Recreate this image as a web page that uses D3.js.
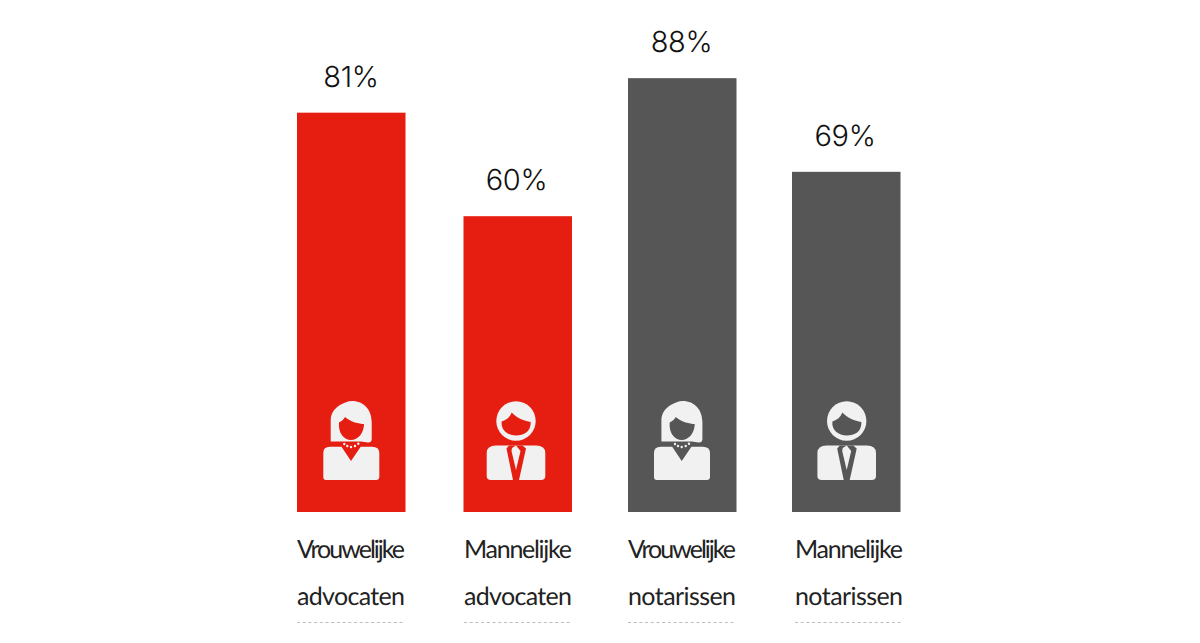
<!DOCTYPE html>
<html><head><meta charset="utf-8">
<script src="https://cdn.jsdelivr.net/npm/d3@7"></script>
<style>html,body{margin:0;background:#fff}svg{display:block}text{font-family:"Open Sans",sans-serif;fill:#222;text-rendering:geometricPrecision}</style>
</head><body><svg id="c" width="1200" height="643"></svg>
<script>
const categories = ["va","ma","vn","mn"];
const labelLine1 = ["Vrouwelijke","Mannelijke","Vrouwelijke","Mannelijke"];
const labelLine2 = ["advocaten","advocaten","notarissen","notarissen"];
const values = [81,60,88,69];
const genders = ["f","m","f","m"];
const colors = ["#e61e12","#e61e12","#565656","#565656"];

const svg = d3.select("#c");
const x = d3.scaleOrdinal().domain(categories).range([297,463.5,628,792]);
const labelX = d3.scaleOrdinal().domain(categories).range([297,464,628,795]);
const iconX = d3.scaleOrdinal().domain(categories).range([351,516,681.7,846.7]);
const valueX = d3.scaleOrdinal().domain(categories).range([351,516.5,681.5,845]);
const barW = 108.5;
const labelW = 108;
const y = d3.scaleLinear().domain([0,100]).range([512,19]);
const rows = categories.map((c,i)=>({c,i,v:values[i],g:genders[i],col:colors[i],a:labelLine1[i],b:labelLine2[i]}));

// icon shapes, in icon units: origin at centre of the bottom edge
const womanHair = "M-20.3-38.5V-60C-20.3-67-16-72-11-75C-7-77-3-79 1-79C13-79 20.7-70 20.7-58V-41C20.7-38.5 19-37.3 17-37.5L10-38.5Z";
const womanFace = "M-12-57.5C-9-59-7-61-6-63C0-58 8-56 13-56C13-47 7-40-0-40C-7-40-13-47-12-57.5Z";
const womanBody = "M-27.7-27Q-27.7-33.3-21-33.3H-9.5L0-19L9.7-33.3H21Q28.3-33.3 28.3-27V-3Q28.3 0 25 0H-25Q-27.7 0-27.7-3Z";
const dots = [[-6.7,-36],[-3.7,-34],[0,-33],[4,-34],[7.3,-36.3]];
const manFace = "M-14.3-58.5C-9.5-60-6-63-4.3-67.5C1-62 8-59 14.7-58C15-48 8-44.5 0-44.5C-8-44.5-15.5-50-14.3-58.5Z";
const manBody = "M-29.3-27Q-29.3-34.5-20-34.5H20Q29.3-34.5 29.3-27V-4Q29.3 0 25 0H-25Q-29.3 0-29.3-4Z";
const manTieBack = "M-9.5-31.5L-7-34.5H6.5L10-31.5L3 0H-3Z";
const manShirt = "M-4-32L0-34.5L4.5-29L0-10L-4.5-29Z";

const g = svg.selectAll("g.bar").data(rows).join("g").attr("class","bar");
g.append("rect").attr("x",d=>x(d.c)).attr("y",d=>y(d.v)).attr("width",barW).attr("height",d=>y(0)-y(d.v)).attr("fill",d=>d.col);
g.append("text").attr("x",d=>valueX(d.c)).attr("y",d=>y(d.v)-26).attr("text-anchor","middle").attr("font-size",29).attr("font-weight",300).attr("letter-spacing",-0.3).style("font-family","Inter").style("fill","#111").text(d=>d.v+"%");
g.append("text").attr("x",d=>labelX(d.c)).attr("y",558).attr("font-size",25).style("font-family","Lato").attr("textLength",labelW).attr("lengthAdjust","spacing").text(d=>d.a);
g.append("text").attr("x",d=>labelX(d.c)).attr("y",605).attr("font-size",25).style("font-family","Lato").attr("textLength",labelW).attr("lengthAdjust","spacing").text(d=>d.b);
g.append("line").attr("x1",d=>labelX(d.c)).attr("x2",d=>labelX(d.c)+labelW).attr("y1",622.5).attr("y2",622.5).attr("stroke","#bdbdbd").attr("stroke-width",1).attr("stroke-dasharray","3 2.7");

const ic = g.append("g").attr("transform",d=>`translate(${iconX(d.c)},480)`);
const light = "#f1f1f1";
ic.each(function(d){
  const s = d3.select(this);
  if(d.g==="f"){
    s.append("path").attr("d",womanHair).attr("fill",light);
    s.append("path").attr("d",womanFace).attr("fill",d.col);
    s.append("path").attr("d",womanBody).attr("fill",light);
    s.selectAll("circle").data(dots).join("circle").attr("cx",p=>p[0]).attr("cy",p=>p[1]).attr("r",1.2).attr("fill",light);
  } else {
    s.append("circle").attr("cx",0).attr("cy",-59).attr("r",19.7).attr("fill",light);
    s.append("path").attr("d",manFace).attr("fill",d.col);
    s.append("path").attr("d",manBody).attr("fill",light);
    s.append("path").attr("d",manTieBack).attr("fill",d.col);
    s.append("path").attr("d",manShirt).attr("fill",light);
  }
});
</script></body></html>
